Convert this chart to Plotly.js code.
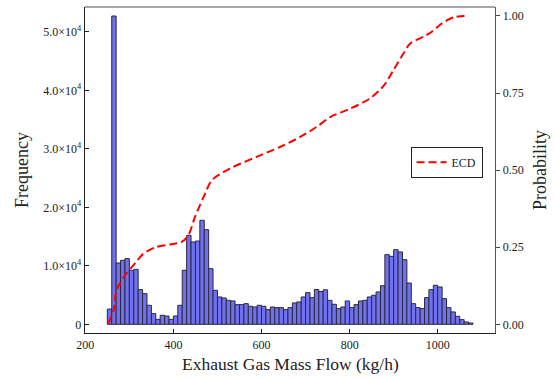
<!DOCTYPE html>
<html>
<head>
<meta charset="utf-8">
<script src="https://cdn.plot.ly/plotly-3.0.1.min.js"></script>
<style>html,body{margin:0;padding:0;background:#fff}#chart{width:555px;height:379px}</style>
</head>
<body>
<div id="chart"></div>
<script>
// Histogram bins (kg/h, bin centers, width 10)
const binCenters = [255,265,275,285,295,305,315,325,335,345,355,365,375,385,395,405,415,425,435,445,
  455,465,475,485,495,505,515,525,535,545,555,565,575,585,595,605,615,625,635,645,
  655,665,675,685,695,705,715,725,735,745,755,765,775,785,795,805,815,825,835,845,
  855,865,875,885,895,905,915,925,935,945,955,965,975,985,995,1005,1015,1025,1035,1045,
  1055,1065,1075];
const frequency = [2600,52700,10480,10940,11230,9230,9400,5930,5240,3250,1820,850,1540,1420,850,1420,3250,9230,15210,14070,
  14240,17780,16180,9510,5810,4670,4500,4100,3990,3360,3360,3530,3080,2960,3250,3080,2510,2960,2850,2850,
  2510,2850,3650,3820,4670,5410,4560,5950,5600,5900,4100,3420,2680,2960,3990,2850,3360,3990,4100,4670,
  4960,5530,6600,11910,11620,12760,12370,11050,7060,3530,2850,2680,4560,5930,6670,6380,4390,2850,2110,1370,
  800,400,220];
const ecdX = [252,264,271,290,309,332,362,392,419,434,449,472,487,528,589,642,687,725,756,801,846,878,899,922,937,967,986,1009,1035,1069];
const ecdP = [0.002,0.045,0.11,0.159,0.191,0.229,0.251,0.259,0.267,0.289,0.348,0.424,0.467,0.505,0.543,0.575,0.607,0.64,0.672,0.699,0.732,0.775,0.823,0.878,0.91,0.932,0.948,0.975,0.995,1.0];
const leftTickVals = [0,10000,20000,30000,40000,50000];
const leftTickText = ['0','1.0×10<sup>4</sup>','2.0×10<sup>4</sup>','3.0×10<sup>4</sup>','4.0×10<sup>4</sup>','5.0×10<sup>4</sup>'];
const rightTickVals = [0,0.25,0.5,0.75,1.0];
const xTickVals = [200,400,600,800,1000];
const xTitle = 'Exhaust Gas Mass Flow (kg/h)';

const FONT = "'Liberation Serif', 'DejaVu Serif', serif";

const traces = [
  {
    type: 'bar', x: binCenters, y: frequency, width: 10,
    marker: {color: '#7070f2', line: {color: '#2a2a3a', width: 1}},
    showlegend: false, hoverinfo: 'skip'
  },
  {
    type: 'scatter', mode: 'lines', x: ecdX, y: ecdP, yaxis: 'y2', name: 'ECD',
    line: {color: '#ff0000', width: 2, dash: '8px,4px', shape: 'spline', smoothing: 0.8}
  }
];

const layout = {
  width: 555, height: 379,
  margin: {l: 85, r: 60, t: 7, b: 46},
  paper_bgcolor: '#fff', plot_bgcolor: '#fff',
  font: {family: FONT, size: 12, color: '#222'},
  bargap: 0,
  xaxis: {
    range: [199.3, 1130], tickvals: xTickVals, ticks: 'inside', ticklen: 4, tickcolor: '#222',
    showline: true, linecolor: '#222', linewidth: 1.3, showgrid: false, zeroline: false,
    tickfont: {family: FONT, size: 12}
  },
  yaxis: {
    range: [-1487, 54240], tickvals: leftTickVals, ticktext: leftTickText,
    ticks: 'inside', ticklen: 4, tickcolor: '#222',
    showline: true, linecolor: '#222', linewidth: 1.3, showgrid: false, zeroline: false,
    title: {text: 'Frequency', font: {family: FONT, size: 18, color: '#222'}, standoff: 10},
    tickfont: {family: FONT, size: 12}
  },
  yaxis2: {
    overlaying: 'y', side: 'right', range: [-0.0282, 1.0289],
    tickvals: rightTickVals, tickformat: '.2f', ticks: 'outside', ticklen: 4, tickcolor: '#444',
    showline: true, linecolor: '#555', linewidth: 1.3, showgrid: false, zeroline: false,
    title: {text: 'Probability', font: {family: FONT, size: 18, color: '#222'}, standoff: 10},
    tickfont: {family: FONT, size: 12}
  },
  legend: {
    x: 0.794, y: 0.571, xanchor: 'left', yanchor: 'top',
    bgcolor: '#fff', bordercolor: '#222', borderwidth: 1,
    font: {family: FONT, size: 12, color: '#222'},
    itemwidth: 30
  },
  annotations: [
    {text: xTitle, xref: 'paper', yref: 'paper', x: 0.502, y: -0.095, xanchor: 'center', yanchor: 'middle',
     showarrow: false, font: {family: FONT, size: 17.5, color: '#222'}}
  ],
  shapes: [
    {type: 'line', xref: 'paper', yref: 'paper', x0: 0, x1: 1, y0: 1, y1: 1, line: {color: '#888', width: 1.5}}
  ]
};

Plotly.newPlot('chart', traces, layout, {displayModeBar: false, staticPlot: true});
</script>
</body>
</html>
